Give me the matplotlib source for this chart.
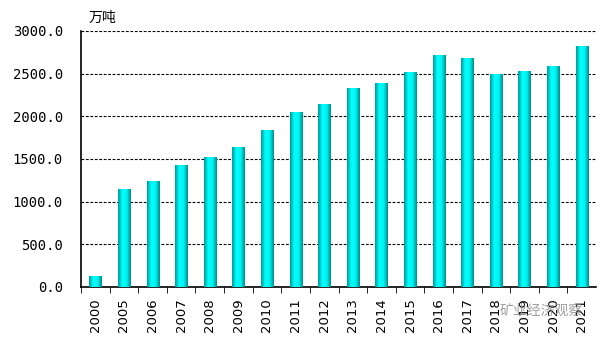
import numpy as np
from matplotlib import pyplot as plt, rcParams
from matplotlib.colors import LinearSegmentedColormap

rcParams['font.family'] = ['DejaVu Sans Mono', 'Noto Sans CJK SC']
rcParams['axes.unicode_minus'] = False

# 数据
years = ['2000', '2005', '2006', '2007', '2008', '2009', '2010', '2011', '2012',
         '2013', '2014', '2015', '2016', '2017', '2018', '2019', '2020', '2021']
values = [130, 1150, 1245, 1430, 1525, 1640, 1840, 2050, 2145,
          2330, 2390, 2515, 2720, 2680, 2495, 2530, 2590, 2825]
yticks = [0, 500, 1000, 1500, 2000, 2500, 3000]

fig = plt.figure(figsize=(6.02, 3.44), dpi=100)
ax = fig.add_axes([81/602, 1-287/344, 515/602, 256/344])

x = np.arange(len(years))
bars = ax.bar(x, values, width=0.42, color='#00e0e0', zorder=2)

# 柱子的渐变效果
cmap = LinearSegmentedColormap.from_list('cy', ['#009a9a', '#00ffff', '#00f4f4', '#008c8c'])
grad = np.linspace(0, 1, 64).reshape(1, -1)
for b in bars:
    bx, by = b.get_x(), b.get_y()
    im = ax.imshow(grad, cmap=cmap, aspect='auto', zorder=3,
                   extent=[bx, bx + b.get_width(), by, by + b.get_height()])
    im.set_clip_path(b)

ax.set_xlim(-0.5, len(years) - 0.5)
ax.set_ylim(0, 3000)
ax.set_yticks(yticks)
ax.set_yticklabels(['{:.1f}'.format(v) for v in yticks], fontsize=10)
ax.tick_params(axis='y', length=0, pad=13)
ax.set_xticks(x)
ax.set_xticklabels(years, rotation=90, fontsize=9.5, family='DejaVu Sans')
ax.set_xticks(np.arange(len(years)) - 0.5, minor=True)
ax.tick_params(axis='x', which='major', length=0, pad=8)
ax.tick_params(axis='x', which='minor', length=4, direction='out')

ax.yaxis.grid(True, linestyle=(0, (2.5, 1.5)), color='black', linewidth=0.8, zorder=1)
for s in ['top', 'right']:
    ax.spines[s].set_visible(False)
ax.spines['left'].set_linewidth(1.2)
ax.spines['bottom'].set_linewidth(1.2)

fig.text(89/602, 1-18/344, '万吨', fontsize=10, family='Noto Sans CJK SC', va='center')
# 水印
fig.text(500/602, 1-311/344, '矿业经济观察', fontsize=10, color='#888888', alpha=0.8,
         family='Noto Sans CJK SC', va='center', style='italic')

plt.savefig('out.png', dpi=100)
